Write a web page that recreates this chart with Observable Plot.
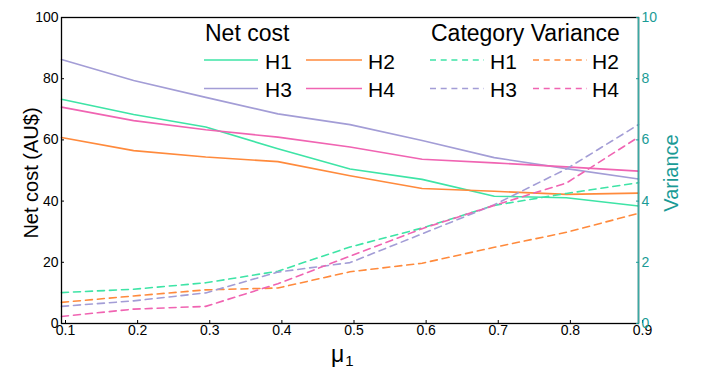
<!DOCTYPE html>
<html><head><meta charset="utf-8">
<script src="https://cdn.jsdelivr.net/npm/d3@7"></script>
<script src="https://cdn.jsdelivr.net/npm/@observablehq/plot@0.6"></script>
<style>
body{margin:0;background:#fff;font-family:"Liberation Sans",Arial,sans-serif;}
#wrap{position:relative;width:710px;height:373px;}
#overlay{position:absolute;left:0;top:0;pointer-events:none;}
</style></head><body><div id="wrap"></div>
<script>
// ---- data ----
const mu = [0.1, 0.2, 0.3, 0.4, 0.5, 0.6, 0.7, 0.8, 0.9];
const costH1 = [73.3, 68.3, 64.2, 57.1, 50.5, 47.1, 41.6, 41.1, 38.4];
const costH2 = [60.8, 56.5, 54.4, 52.9, 48.3, 44.1, 43.2, 42.2, 42.6];
const costH3 = [86.3, 79.4, 73.9, 68.5, 65.0, 59.8, 54.2, 50.6, 47.2];
const costH4 = [70.7, 66.3, 63.3, 60.9, 57.7, 53.7, 52.5, 51.2, 49.8];
const varH1 = [1.01, 1.12, 1.33, 1.71, 2.50, 3.12, 3.86, 4.25, 4.60];
const varH2 = [0.69, 0.90, 1.10, 1.16, 1.69, 1.97, 2.49, 2.98, 3.60];
const varH3 = [0.56, 0.74, 1.00, 1.68, 1.99, 2.93, 3.88, 5.05, 6.50];
const varH4 = [0.23, 0.47, 0.56, 1.30, 2.20, 3.10, 3.86, 4.59, 6.09];
const seriesNames = ["H1", "H2", "H3", "H4"];
const xTicks = [0.1, 0.2, 0.3, 0.4, 0.5, 0.6, 0.7, 0.8, 0.9];
const yTicks = [0, 20, 40, 60, 80, 100];
const varTicks = [0, 2, 4, 6, 8, 10];

// ---- style ----
const colors = {H1: "#3ee4a6", H2: "#ff8a3c", H3: "#a39dd6", H4: "#f064b2"};
const teal = "#1a9b96";
const dash = "7,5";

const costs = {H1: costH1, H2: costH2, H3: costH3, H4: costH4};
const vars = {H1: varH1, H2: varH2, H3: varH3, H4: varH4};

const chart = Plot.plot({
  width: 710, height: 373,
  marginLeft: 61, marginRight: 72, marginTop: 17, marginBottom: 50,
  style: {fontFamily: "Liberation Sans, Arial, sans-serif", fontSize: "14px", color: "black", background: "white", overflow: "visible"},
  x: {domain: [0.1, 0.9]},
  y: {domain: [0, 100]},
  marks: [
    ...seriesNames.map(k => Plot.lineY(costs[k], {x: mu, stroke: colors[k], strokeWidth: 1.6})),
    ...seriesNames.map(k => Plot.lineY(vars[k].map(v => v * 10), {x: mu, stroke: colors[k], strokeWidth: 1.6, strokeDasharray: dash})),
    Plot.frame({stroke: "black", strokeWidth: 1.3}),
    Plot.ruleX([0.9], {stroke: "#3aa9a4", strokeWidth: 1.6}),
    Plot.axisX(xTicks, {tickSize: -3, tickFormat: d3.format(".1f"), tickPadding: 5, dx: 4, label: null, fontSize: 14}),
    Plot.axisY(yTicks, {anchor: "left", tickSize: -3, tickPadding: 6, label: null, fontSize: 14}),
    Plot.axisY(varTicks.map(v => v * 10), {anchor: "right", tickSize: -3, tickPadding: 6, tickFormat: d => String(d / 10), color: teal, label: null, fontSize: 14})
  ]
});
const wrap = document.getElementById("wrap");
wrap.appendChild(chart);

// ---- legend & titles overlay ----
const ns = "http://www.w3.org/2000/svg";
const ov = document.createElementNS(ns, "svg");
ov.setAttribute("id", "overlay");
ov.setAttribute("width", 710); ov.setAttribute("height", 373);
ov.setAttribute("font-family", "Liberation Sans, Arial, sans-serif");
function txt(s, x, y, size, opts = {}) {
  const t = document.createElementNS(ns, "text");
  t.setAttribute("x", x); t.setAttribute("y", y);
  t.setAttribute("font-size", size);
  t.setAttribute("fill", opts.fill || "black");
  if (opts.anchor) t.setAttribute("text-anchor", opts.anchor);
  if (opts.transform) t.setAttribute("transform", opts.transform);
  t.textContent = s;
  ov.appendChild(t);
  return t;
}
function ln(x1, x2, y, color, dashed) {
  const l = document.createElementNS(ns, "line");
  l.setAttribute("x1", x1); l.setAttribute("x2", x2);
  l.setAttribute("y1", y); l.setAttribute("y2", y);
  l.setAttribute("stroke", color); l.setAttribute("stroke-width", 1.6);
  if (dashed) l.setAttribute("stroke-dasharray", "6,4.7");
  ov.appendChild(l);
}
txt("Net cost", 205, 40.5, 23);
txt("Category Variance", 431, 40.5, 23);
const rows = [[60, 68.5], [88.5, 96.8]];
const solidCols = [[204, 258, 265], [306, 362, 368]];
const dashCols = [[430, 484, 490], [533, 587, 592]];
seriesNames.forEach((k, i) => {
  const r = rows[Math.floor(i / 2)], c = i % 2;
  ln(solidCols[c][0], solidCols[c][1], r[0], colors[k], false);
  txt(k, solidCols[c][2], r[1], 21);
  ln(dashCols[c][0], dashCols[c][1], r[0], colors[k], true);
  txt(k, dashCols[c][2], r[1], 21);
});
txt("Net cost (AU$)", 0, 0, 20, {anchor: "middle", transform: "translate(38,173) rotate(-90)"});
txt("Variance", 0, 0, 20, {anchor: "middle", fill: teal, transform: "translate(678,173) rotate(-90)"});
const mut = txt("μ", 331, 362, 23);
const sub = document.createElementNS(ns, "tspan");
sub.setAttribute("font-size", 15); sub.setAttribute("dy", 4); sub.setAttribute("dx", 1);
sub.textContent = "1";
mut.appendChild(sub);
wrap.appendChild(ov);
</script></body></html>
